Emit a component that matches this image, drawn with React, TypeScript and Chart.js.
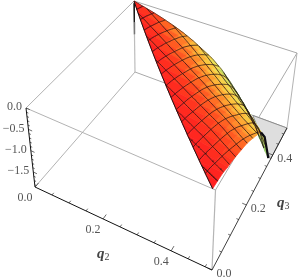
import React, { useEffect, useRef } from "react";
import { Chart, registerables } from "chart.js";

Chart.register(...registerables);

// Axis ranges
const q2Max = 0.52;
const zMin = -1.85;

// Tick values
const q2TickLabels = [0.0, 0.2, 0.4];
const q3TickLabels = [0.0, 0.2, 0.4];
const zTickLabels = [0.0, -0.5, -1.0, -1.5];
const q2MinorTicks = [0.05, 0.1, 0.15, 0.25, 0.3, 0.35, 0.45, 0.5];
const q3MinorTicks = [0.05, 0.1, 0.15, 0.25, 0.3, 0.35, 0.45, 0.5];
const zMinorTicks = [-0.1, -0.2, -0.3, -0.4, -0.6, -0.7, -0.8, -0.9, -1.1, -1.2, -1.3, -1.4, -1.6, -1.7, -1.8];

// Surface heights on the 17 x 17 grid (q2 index runs 16-j ... 16 in row j); row 0 is q3 = max
const zRows: number[][] = [
  [0, -0.07, -0.14, -0.22, -0.31, -0.41, -0.53, -0.67, -0.81, -1.0, -1.24, -1.5, -1.79, -2.13, -2.59, -3.15, -3.7],
  [0, -0.06, -0.13, -0.21, -0.28, -0.38, -0.49, -0.63, -0.77, -0.94, -1.15, -1.4, -1.74, -2.13, -2.59, -3.15],
  [0, -0.06, -0.12, -0.19, -0.26, -0.35, -0.46, -0.59, -0.72, -0.87, -1.06, -1.31, -1.68, -2.13, -2.59],
  [0, -0.05, -0.11, -0.18, -0.24, -0.33, -0.43, -0.55, -0.68, -0.81, -0.97, -1.21, -1.63, -2.13],
  [0, -0.05, -0.1, -0.16, -0.22, -0.3, -0.4, -0.51, -0.63, -0.75, -0.88, -1.12, -1.57],
  [0, -0.04, -0.09, -0.15, -0.2, -0.27, -0.37, -0.47, -0.58, -0.68, -0.79, -1.02],
  [0, -0.04, -0.08, -0.13, -0.18, -0.25, -0.33, -0.43, -0.54, -0.62, -0.7],
  [0, -0.03, -0.07, -0.12, -0.16, -0.22, -0.3, -0.39, -0.49, -0.56],
  [0, -0.03, -0.06, -0.1, -0.14, -0.19, -0.27, -0.35, -0.44],
  [0, -0.03, -0.06, -0.09, -0.12, -0.17, -0.26, -0.33],
  [0, -0.02, -0.05, -0.07, -0.12, -0.19, -0.26],
  [0, -0.02, -0.04, -0.08, -0.13, -0.19],
  [0, -0.01, -0.05, -0.08, -0.13],
  [0, -0.01, -0.05, -0.09],
  [0, -0.01, -0.03],
  [0, -0.01],
  [0],
];

// Mesh levels of the two line families drawn on the surface
const meshLevelsA = [-0.06, 0.01, 0.08, 0.15, 0.22, 0.29, 0.36, 0.43, 0.5, 0.57, 0.64, 0.71, 0.78, 0.85, 0.92];
const meshLevelsB = [0.51, 0.585, 0.66, 0.735, 0.81, 0.885, 0.96, 1.035, 1.11, 1.185, 1.26, 1.335];
const meshSlopeA = 0.115;
const meshSlopeB = 0.45;

// Colour ramp of the surface
const surfaceColors = [
  [255, 32, 32],
  [255, 62, 30],
  [255, 105, 35],
  [255, 150, 45],
  [252, 195, 60],
  [240, 225, 85],
  [180, 215, 100],
  [120, 190, 115],
];

const N = 16;
type P3 = [number, number, number];

// Projection of the unit box (q2 fraction, q3 fraction, depth fraction) on the canvas
const top00 = [26, 108], top10 = [215.5, 190], top01 = [134, 1], top11 = [297, 53];
const bot00 = [35, 187], bot10 = [212, 270], bot01 = [135, 72], bot11 = [287, 128];
const surfaceInset = 0.985;

function project(u: number, v: number, w: number) {
  const mix = (a: number[], b: number[], c: number[], d: number[], k: number) => {
    const p = a[k] * (1 - u) + b[k] * u;
    const q = c[k] * (1 - u) + d[k] * u;
    return p * (1 - v) + q * v;
  };
  const tx = mix(top00, top10, top01, top11, 0);
  const ty = mix(top00, top10, top01, top11, 1);
  const bx = mix(bot00, bot10, bot01, bot11, 0);
  const by = mix(bot00, bot10, bot01, bot11, 1);
  return { x: tx * (1 - w) + bx * w, y: ty * (1 - w) + by * w };
}

const q3Frac = (q: number) => (2.635 * q) / (1 + 0.753 * q);
const zFrac = (z: number) => z / zMin;

function gridDepth(i: number, j: number) {
  if (i + j < N) return 0;
  return zFrac(zRows[N - j][i - (N - j)]);
}

function surf(i: number, j: number): P3 {
  return [(i / N) * surfaceInset, j / N, gridDepth(i, j)];
}

// surface point at a fractional position of the (q2, q3) square
function surfAt(u: number, v: number): P3 {
  const x = Math.min(N, Math.max(0, u * N)), y = Math.min(N, Math.max(0, v * N));
  const a = Math.min(N - 1, Math.floor(x)), b = Math.min(N - 1, Math.floor(y));
  const f = x - a, g = y - b;
  const w =
    gridDepth(a, b) * (1 - f) * (1 - g) +
    gridDepth(a + 1, b) * f * (1 - g) +
    gridDepth(a, b + 1) * (1 - f) * g +
    gridDepth(a + 1, b + 1) * f * g;
  return [u * surfaceInset, v, w];
}

function clipPoly(pts: P3[]): P3[] {
  const out: P3[] = [];
  for (let a = 0; a < pts.length; a++) {
    const p = pts[a], q = pts[(a + 1) % pts.length];
    if (p[2] <= 1) out.push(p);
    if ((p[2] <= 1) !== (q[2] <= 1)) {
      const t = (1 - p[2]) / (q[2] - p[2]);
      out.push([p[0] + (q[0] - p[0]) * t, p[1] + (q[1] - p[1]) * t, 1]);
    }
  }
  return out;
}

function clipLine(pts: P3[]): P3[] {
  const out: P3[] = [];
  for (let a = 0; a < pts.length; a++) {
    const p = pts[a];
    if (p[2] <= 1) out.push(p);
    else {
      if (a > 0 && pts[a - 1][2] <= 1) {
        const q = pts[a - 1];
        const t = (1 - q[2]) / (p[2] - q[2]);
        out.push([q[0] + (p[0] - q[0]) * t, q[1] + (p[1] - q[1]) * t, 1]);
      }
      break;
    }
  }
  return out;
}

function rampColor(p: number) {
  const c = Math.max(0, Math.min(0.999, p)) * (surfaceColors.length - 1);
  const k = Math.floor(c), f = c - k;
  const a = surfaceColors[k], b = surfaceColors[k + 1];
  return `rgb(${a.map((x, n) => Math.round(x + (b[n] - x) * f)).join(",")})`;
}

function line(pts: P3[], color: string, width: number) {
  return {
    type: "scatter" as const,
    data: pts.map((p) => project(p[0], p[1], p[2])),
    showLine: true,
    borderColor: color,
    borderWidth: width,
    pointRadius: 0,
    fill: false,
    clip: false as const,
    tension: 0,
  };
}

function buildDatasets() {
  const axisC = "#111";
  const boxC = "#a9a9a9";
  const front: any[] = [];

  // axes with their ticks
  front.push(line([[0, 0, 0], [0, 0, 1]], axisC, 1));
  front.push(line([[0, 0, 1], [1, 0, 1]], axisC, 1));
  front.push(line([[1, 0, 1], [1, 1, 1]], axisC, 0.8));
  const q2Tick = (q: number, len: number) => line([[q / q2Max, 0, 1], [q / q2Max, len, 1]], "#444", 0.8);
  const q3Tick = (q: number, len: number) => line([[1, q3Frac(q), 1], [1 - len, q3Frac(q), 1]], "#444", 0.8);
  const zTick = (z: number, len: number) => line([[0, 0, zFrac(z)], [len, 0, zFrac(z)]], "#444", 0.8);
  q2TickLabels.forEach((q) => front.push(q2Tick(q, 0.035)));
  q2MinorTicks.forEach((q) => front.push(q2Tick(q, 0.018)));
  q3TickLabels.forEach((q) => front.push(q3Tick(q, 0.025)));
  q3MinorTicks.forEach((q) => front.push(q3Tick(q, 0.013)));
  zTickLabels.forEach((z) => front.push(zTick(z, 0.02)));
  zMinorTicks.forEach((z) => front.push(zTick(z, 0.01)));

  // dark strip on the vertical corner and on the steep end of the surface
  front.push(line([[0, 1, 0.03], [0, 1, 0.3]], "#111", 1.3));
  front.push(line([[0, 1, 0.3], [0, 1, 0.47]], "#777", 1.5));

  const edge: any[] = [];
  // outline of the surface
  const diag: P3[] = [];
  for (let i = 0; i <= N; i++) diag.push(surf(i, N - i));
  edge.push(line(diag, "#1c1214", 1));
  const topEdge: P3[] = [];
  for (let i = 0; i <= N; i++) topEdge.push(surf(i, N));
  edge.push(line(clipLine(topEdge), "rgba(40,40,30,0.8)", 0.8));
  const sideEdge: P3[] = [];
  for (let j = 0; j <= N; j++) sideEdge.push(surf(N, j));
  const sideClipped = clipLine(sideEdge);
  edge.unshift(line(sideClipped.filter((p) => p[1] >= 9.5 / N), "#0b0b12", 2.2));

  // mesh
  const mesh: any[] = [];
  const meshC = "rgba(40,20,20,0.85)";
  const steps = 40;
  meshLevelsA.forEach((c) => {
    // u = c + slope * v, from the diagonal to the far edge
    const v0 = Math.max((1 - c) / (1 + meshSlopeA), 0);
    const v1 = Math.min(1, (1 - c) / meshSlopeA);
    const a: P3[] = [];
    for (let s = 0; s <= steps; s++) {
      const v = v0 + ((v1 - v0) * s) / steps;
      a.push(surfAt(c + meshSlopeA * v, v));
    }
    mesh.push(line(clipLine(a), meshC, 0.9));
  });
  meshLevelsB.forEach((c) => {
    // v = c - slope * u, from the diagonal or the far edge to u = 1
    const u0 = c < 1 ? (1 - c) / (1 - meshSlopeB) : (c - 1) / meshSlopeB;
    const b: P3[] = [];
    for (let s = 0; s <= steps; s++) {
      const u = u0 + ((1 - u0) * s) / steps;
      b.push(surfAt(u, c - meshSlopeB * u));
    }
    mesh.push(line(clipLine(b), meshC, 0.9));
  });

  // patches
  const patches: { w: number; ds: any }[] = [];
  const addPatch = (corners: P3[]) => {
    const poly = clipPoly(corners);
    if (poly.length < 3) return;
    const cu = corners.reduce((s, p) => s + p[0], 0) / corners.length;
    const cv = corners.reduce((s, p) => s + p[1], 0) / corners.length;
    const cw = corners.reduce((s, p) => s + p[2], 0) / corners.length;
    const excess = cu + cv - 1;
    const col = rampColor(excess * (0.3 + 1.2 * cv));
    const closed = [...poly, poly[0]];
    patches.push({
      w: cw,
      ds: { ...line(closed, col, 0.7), fill: "shape", backgroundColor: col },
    });
  };
  for (let j = 0; j < N; j++) {
    for (let i = N - j; i < N; i++) {
      addPatch([surf(i, j), surf(i + 1, j), surf(i + 1, j + 1), surf(i, j + 1)]);
    }
    // triangular cell on the diagonal
    addPatch([surf(N - j - 1, j + 1), surf(N - j, j), surf(N - j, j + 1)]);
  }
  patches.sort((a, b) => a.w - b.w);

  // clipped floor
  const floorPts: P3[] = [[0.775, 1, 1], [1, 1, 1], [1, 0.78, 1], [0.775, 1, 1]];
  const floor = { ...line(floorPts, "#8c8c8c", 1), fill: "shape", backgroundColor: "#dedede" };

  // box
  const box = [
    line([[0, 0, 0], [0, 1, 0]], boxC, 0.9),
    line([[0, 1, 0], [1, 1, 0]], boxC, 1),
    line([[1, 1, 0], [1, 0, 0]], boxC, 1),
    line([[0, 0, 0], [1, 0, 0]], boxC, 0.9),
    line([[0, 1, 0], [0, 1, 1]], "#bdbdbd", 1.2),
    line([[1, 1, 0], [1, 1, 1]], boxC, 0.9),
    line([[1, 0, 0], [1, 0, 1]], "#b5b5b5", 1.2),
    line([[0, 0, 1], [0, 1, 1]], boxC, 0.9),
    line([[0, 1, 1], [1, 1, 1]], boxC, 1),
  ];

  return [...front, ...edge, ...mesh, ...patches.map((p) => p.ds), floor, ...box];
}

const labelPlugin = {
  id: "boxLabels",
  afterDraw(chart: any) {
    const { ctx, scales } = chart;
    const at = (p: { x: number; y: number }) => ({
      x: scales.x.getPixelForValue(p.x),
      y: scales.y.getPixelForValue(p.y),
    });
    const serif = '"Liberation Serif", serif';
    ctx.save();
    ctx.fillStyle = "#555";
    ctx.textBaseline = "middle";
    ctx.font = `12px ${serif}`;
    ctx.textAlign = "center";
    q2TickLabels.forEach((q) => {
      const p = at(project(q / q2Max, 0, 1));
      ctx.fillText(q.toFixed(1), p.x - 10, p.y + 11);
    });
    q3TickLabels.forEach((q) => {
      const p = at(project(1, q3Frac(q), 1));
      ctx.fillText(q.toFixed(1), p.x + 12, p.y + 4);
    });
    ctx.textAlign = "right";
    zTickLabels.forEach((z) => {
      const p = at(project(0, 0, zFrac(z)));
      const s = z === 0 ? "0.0" : "\u2212" + Math.abs(z).toFixed(1);
      ctx.fillText(s, p.x - 4, p.y - 1);
    });
    const title = (main: string, sub: string, x: number, y: number) => {
      ctx.textAlign = "left";
      ctx.fillStyle = "#444";
      ctx.font = `italic bold 15px ${serif}`;
      ctx.fillText(main, x, y);
      const w = ctx.measureText(main).width;
      ctx.font = `10px ${serif}`;
      ctx.fillText(sub, x + w, y + 3);
    };
    title("q", "2", 97, 254);
    title("q", "3", 277, 203);
    ctx.restore();
  },
};

export default function App() {
  const ref = useRef<HTMLCanvasElement>(null);
  useEffect(() => {
    document.body.style.margin = "0";
    const chart = new Chart(ref.current as HTMLCanvasElement, {
      type: "scatter",
      data: { datasets: buildDatasets() },
      options: {
        animation: false,
        responsive: false,
        layout: { padding: 0 },
        plugins: { legend: { display: false }, tooltip: { enabled: false } },
        scales: {
          x: { type: "linear", min: 0, max: 298, display: false },
          y: { type: "linear", min: 0, max: 278, reverse: true, display: false },
        },
      },
      plugins: [labelPlugin],
    } as any);
    return () => chart.destroy();
  }, []);
  return <canvas ref={ref} width={298} height={278} style={{ display: "block" }} />;
}
